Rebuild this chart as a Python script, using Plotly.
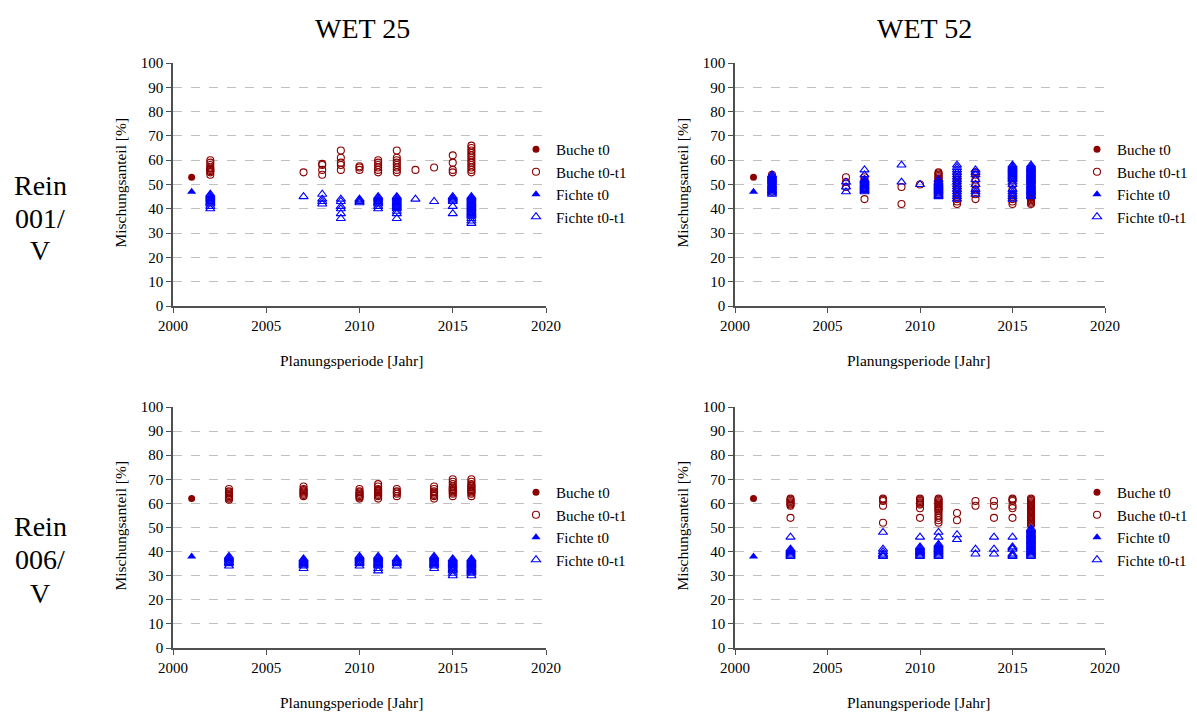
import plotly.graph_objects as go

# ---------------- data (year -> list of mixing shares in %) ----------------
# Panel WET 25 / Rein 001/V
W25_R001_BUCHE_T0 = {2001: [53]}
W25_R001_BUCHE_T01 = {2002: [54, 55, 55.5, 56, 56.5, 57, 58, 59, 60], 2007: [55], 2008: [54, 56, 58, 58.5],
                      2009: [56, 58, 59, 61, 64], 2010: [56, 57, 57.5], 2011: [55, 56, 57, 58, 59, 60],
                      2012: [55, 56, 57, 58, 59, 60, 61, 64], 2013: [56], 2014: [57],
                      2015: [55, 56, 59, 62], 2016: [55, 56, 57, 58, 59, 60, 61, 62, 63, 64, 65, 66]}
W25_R001_FICHTE_T0 = {2001: [47]}
W25_R001_FICHTE_T01 = {2002: [40, 41, 42, 42.5, 43, 43.5, 44, 44.5, 45, 45.5, 46],
                       2007: [45], 2008: [42, 43, 44, 46],
                       2009: [36, 38, 40, 41, 43, 44], 2010: [42.5, 43, 43.5, 44],
                       2011: [40, 41, 42, 42.5, 43, 43.5, 44, 44.5, 45],
                       2012: [36, 38, 39, 40, 40.5, 41, 41.5, 42, 42.5, 43, 43.5, 44, 44.5, 45],
                       2013: [44], 2014: [43],
                       2015: [38, 41, 43, 43.5, 44, 44.5, 45],
                       2016: [34, 35, 36, 37, 37.5, 38, 38.5, 39, 39.5, 40, 40.5, 41, 41.5, 42, 42.5,
                              43, 43.5, 44, 44.5, 45]}

# Panel WET 52 / Rein 001/V
W52_R001_BUCHE_T0 = {2001: [53]}
W52_R001_BUCHE_T01 = {2002: [47, 49, 51, 52, 53, 54], 2006: [53, 51, 49],
                      2007: [44, 48, 49, 50, 51, 52, 53],
                      2009: [49, 42], 2010: [50],
                      2011: [47, 48, 49, 49.5, 50, 50.5, 51, 51.5, 52, 52.5, 53, 53.5, 54, 54.5, 55],
                      2012: [42, 43, 44, 45, 46, 47, 48, 49, 50, 51, 52, 53, 54],
                      2013: [44, 46, 48, 50, 52, 54, 55],
                      2015: [42, 43, 44, 45, 46, 48, 50, 52, 54, 55],
                      2016: [42, 42.5, 43, 43.5, 44, 44.5, 45, 45.5, 46, 46.5, 47, 47.5, 48, 48.5,
                             49, 49.5, 50, 50.5, 51, 51.5, 52, 52.5, 53, 53.5, 54, 54.5, 55]}
W52_R001_FICHTE_T0 = {2001: [47]}
W52_R001_FICHTE_T01 = {2002: [46, 46.5, 47, 47.5, 48, 48.5, 49, 49.5, 50, 50.5, 51, 51.5, 52, 52.5,
                              53, 53.5, 54],
                       2006: [51, 49, 47],
                       2007: [47, 47.5, 48, 48.5, 49, 49.5, 50, 50.5, 51, 51.5, 52, 54, 56],
                       2009: [58, 51], 2010: [50],
                       2011: [45, 45.5, 46, 46.5, 47, 47.5, 48, 48.5, 49, 49.5, 50, 50.5, 51, 52],
                       2012: [44, 45, 46, 47, 48, 49, 50, 51, 52, 53, 54, 55, 56, 57, 58],
                       2013: [46, 47, 48, 50, 52, 54, 55, 56],
                       2015: [44, 45, 46, 47, 48, 50, 51, 52, 52.5, 53, 53.5, 54, 54.5, 55, 55.5,
                              56, 56.5, 57, 57.5, 58],
                       2016: [45, 45.5, 46, 46.5, 47, 47.5, 48, 48.5, 49, 49.5, 50, 50.5, 51, 51.5,
                              52, 52.5, 53, 53.5, 54, 54.5, 55, 55.5, 56, 56.5, 57, 57.5, 58]}

# Panel WET 25 / Rein 006/V
W25_R006_BUCHE_T0 = {2001: [62]}
W25_R006_BUCHE_T01 = {2003: [61.5, 62, 62.5, 63, 63.5, 64, 64.5, 65, 66],
                      2007: [63, 63.5, 64, 64.5, 65, 65.5, 66, 67],
                      2010: [62, 62.5, 63, 63.5, 64, 64.5, 65, 66],
                      2011: [62, 63, 63.5, 64, 64.5, 65, 65.5, 66, 67, 68],
                      2012: [63, 64, 64.5, 65, 66],
                      2014: [62, 63, 63.5, 64, 64.5, 65, 66, 67],
                      2015: [63, 64, 64.5, 65, 65.5, 66, 66.5, 67, 68, 69, 70],
                      2016: [63, 64, 64.5, 65, 65.5, 66, 66.5, 67, 67.5, 68, 69, 70]}
W25_R006_FICHTE_T0 = {2001: [38]}
W25_R006_FICHTE_T01 = {2003: [34, 35, 35.5, 36, 36.5, 37, 37.5, 38],
                       2007: [33, 34, 34.5, 35, 35.5, 36, 36.5, 37],
                       2010: [34, 35, 35.5, 36, 36.5, 37, 37.5, 38],
                       2011: [32, 33, 34, 34.5, 35, 35.5, 36, 36.5, 37, 37.5, 38],
                       2012: [34, 35, 35.5, 36, 36.5, 37],
                       2014: [33, 34, 34.5, 35, 35.5, 36, 36.5, 37, 37.5, 38],
                       2015: [30, 31, 32, 32.5, 33, 33.5, 34, 34.5, 35, 35.5, 36, 36.5, 37],
                       2016: [30, 31, 31.5, 32, 32.5, 33, 33.5, 34, 34.5, 35, 35.5, 36, 36.5, 37]}

# Panel WET 52 / Rein 006/V
W52_R006_BUCHE_T0 = {2001: [62]}
W52_R006_BUCHE_T01 = {2003: [54, 59, 59.5, 60, 60.5, 61, 61.5, 62],
                      2008: [52, 59, 61, 61.5, 62],
                      2010: [54, 58, 59.5, 60, 60.5, 61, 61.5, 62],
                      2011: [52, 53, 54, 55, 56, 57, 57.5, 58, 58.5, 59, 59.5, 60, 60.5, 61, 61.5, 62],
                      2012: [56, 53], 2013: [61, 59], 2014: [61, 59, 54],
                      2015: [54, 58, 59, 61, 61.5, 62],
                      2016: [51, 51.5, 52, 52.5, 53, 53.5, 54, 54.5, 55, 55.5, 56, 56.5, 57, 57.5,
                             58, 58.5, 59, 59.5, 60, 60.5, 61, 61.5, 62]}
W52_R006_FICHTE_T0 = {2001: [38]}
W52_R006_FICHTE_T01 = {2003: [38, 38.5, 39, 39.5, 40, 40.5, 41, 46],
                       2008: [38, 38.5, 39, 40, 41, 48],
                       2010: [38, 38.5, 39, 39.5, 40, 40.5, 41, 41.5, 42, 46],
                       2011: [38, 38.5, 39, 39.5, 40, 40.5, 41, 41.5, 42, 42.5, 43, 46, 48],
                       2012: [47, 45], 2013: [41, 39], 2014: [46, 41, 39],
                       2015: [38, 38.5, 39, 41, 41.5, 42, 46],
                       2016: [38, 38.5, 39, 39.5, 40, 40.5, 41, 41.5, 42, 42.5, 43, 43.5, 44, 44.5,
                              45, 45.5, 46, 46.5, 47, 47.5, 48, 48.5, 49, 49.5]}

COLUMN_TITLES = ["WET 25", "WET 52"]
ROW_TITLES = [["Rein", "001/", "V"], ["Rein", "006/", "V"]]
SERIES_NAMES = ["Buche t0", "Buche t0-t1", "Fichte t0", "Fichte t0-t1"]
X_TICKS = [2000, 2005, 2010, 2015, 2020]
Y_TICKS = [0, 10, 20, 30, 40, 50, 60, 70, 80, 90, 100]
X_TITLE = "Planungsperiode [Jahr]"
Y_TITLE = "Mischungsanteil [%]"

PANELS = [
    [W25_R001_BUCHE_T0, W25_R001_BUCHE_T01, W25_R001_FICHTE_T0, W25_R001_FICHTE_T01],
    [W52_R001_BUCHE_T0, W52_R001_BUCHE_T01, W52_R001_FICHTE_T0, W52_R001_FICHTE_T01],
    [W25_R006_BUCHE_T0, W25_R006_BUCHE_T01, W25_R006_FICHTE_T0, W25_R006_FICHTE_T01],
    [W52_R006_BUCHE_T0, W52_R006_BUCHE_T01, W52_R006_FICHTE_T0, W52_R006_FICHTE_T01],
]

# ---------------- layout ----------------
W, H = 1197, 713
FONT = "Liberation Serif"
RED = "#8B0000"
BLUE = "#0000FF"
AXIS_COLOR = "#505050"

STYLES = [
    dict(symbol="circle", color=RED, size=7, line=dict(width=0, color=RED)),
    dict(symbol="circle-open", color=RED, size=7, line=dict(width=1.1, color=RED)),
    dict(symbol="triangle-up", color=BLUE, size=8, line=dict(width=0, color=BLUE)),
    dict(symbol="triangle-up-open", color=BLUE, size=8, line=dict(width=1.1, color=BLUE)),
]

# pixel positions of plot areas: (x_left, x_right, y_top, y_bottom)
PX = [(173, 546, 63, 306), (735, 1105, 63, 306), (173, 546, 407, 648), (735, 1105, 407, 648)]
# x pixel of legend text start, y pixel of first legend item
LEG = [(556, 145), (1117, 145), (556, 488), (1117, 488)]
XTITLE_CX = [351, 918, 351, 918]
COL_TITLE_CX = [362, 924]
ROW_TITLE_CY = [[184, 217, 249], [525, 558, 592]]
TITLE_SIZE = 15.5


def expand(d):
    xs, ys = [], []
    for yr, vals in d.items():
        for v in vals:
            xs.append(yr)
            ys.append(v)
    return xs, ys


fig = go.Figure()
legend_names = ["legend", "legend2", "legend3", "legend4"]

for p, series in enumerate(PANELS):
    ax = "" if p == 0 else str(p + 1)
    for s, d in enumerate(series):
        xs, ys = expand(d)
        fig.add_trace(go.Scatter(
            x=xs, y=ys, mode="markers", name=SERIES_NAMES[s],
            marker=STYLES[s], xaxis="x" + ax, yaxis="y" + ax,
            legend=legend_names[p], showlegend=True, hoverinfo="x+y+name"))

layout = dict(
    width=W, height=H, margin=dict(l=0, r=0, t=0, b=0, autoexpand=False),
    paper_bgcolor="white", plot_bgcolor="white",
    font=dict(family=FONT, color="black", size=14),
)

annotations = []
for p, (xl, xr, yt, yb) in enumerate(PX):
    ax = "" if p == 0 else str(p + 1)
    tickfont = dict(family=FONT, size=15, color="black")
    layout["xaxis" + ax] = dict(
        domain=[xl / W, xr / W], anchor="y" + ax, range=[2000, 2020],
        tickvals=X_TICKS, ticktext=[str(t) for t in X_TICKS], automargin=False,
        showgrid=False, zeroline=False, showline=True, linecolor=AXIS_COLOR, linewidth=1.5,
        ticks="outside", ticklen=5, tickwidth=1, tickcolor=AXIS_COLOR,
        tickfont=tickfont, fixedrange=True)
    layout["yaxis" + ax] = dict(
        domain=[1 - yb / H, 1 - yt / H], anchor="x" + ax, range=[0, 100],
        tickvals=Y_TICKS, ticktext=[str(t) for t in Y_TICKS], automargin=False,
        showgrid=True, gridcolor="#c0c0c0", griddash="dash", gridwidth=1,
        zeroline=False, showline=True, linecolor=AXIS_COLOR, linewidth=1.5,
        ticks="outside", ticklen=5, tickwidth=1, tickcolor=AXIS_COLOR,
        tickfont=tickfont, fixedrange=True)
    annotations.append(dict(
        x=(xl - 53) / W, y=1 - ((yt + yb) / 2 - 2) / H, xref="paper", yref="paper",
        text=Y_TITLE, textangle=-90, showarrow=False,
        font=dict(family=FONT, size=TITLE_SIZE, color="black"), xanchor="center", yanchor="middle"))
    annotations.append(dict(
        x=XTITLE_CX[p] / W, y=1 - (yb + 54) / H, xref="paper", yref="paper",
        text=X_TITLE, showarrow=False,
        font=dict(family=FONT, size=TITLE_SIZE, color="black"), xanchor="center", yanchor="middle"))
    lx, ly = LEG[p]
    layout[legend_names[p]] = dict(
        x=(lx - 40) / W, y=1 - (ly - 12) / H, xanchor="left", yanchor="top",
        bgcolor="rgba(0,0,0,0)", borderwidth=0, itemwidth=30,
        font=dict(family=FONT, size=15, color="black"), tracegroupgap=0,
        itemclick=False, itemdoubleclick=False)

for c, t in enumerate(COLUMN_TITLES):
    annotations.append(dict(
        x=COL_TITLE_CX[c] / W, y=1 - 28 / H, xref="paper", yref="paper", text=t, showarrow=False,
        font=dict(family=FONT, size=28, color="black"), xanchor="center", yanchor="middle"))
for r, lines in enumerate(ROW_TITLES):
    for k, t in enumerate(lines):
        annotations.append(dict(
            x=40 / W, y=1 - (ROW_TITLE_CY[r][k] + 1) / H, xref="paper", yref="paper", text=t,
            showarrow=False, font=dict(family=FONT, size=28, color="black"),
            xanchor="center", yanchor="middle"))

layout["annotations"] = annotations
fig.update_layout(**layout)
fig.write_html("out.html")
